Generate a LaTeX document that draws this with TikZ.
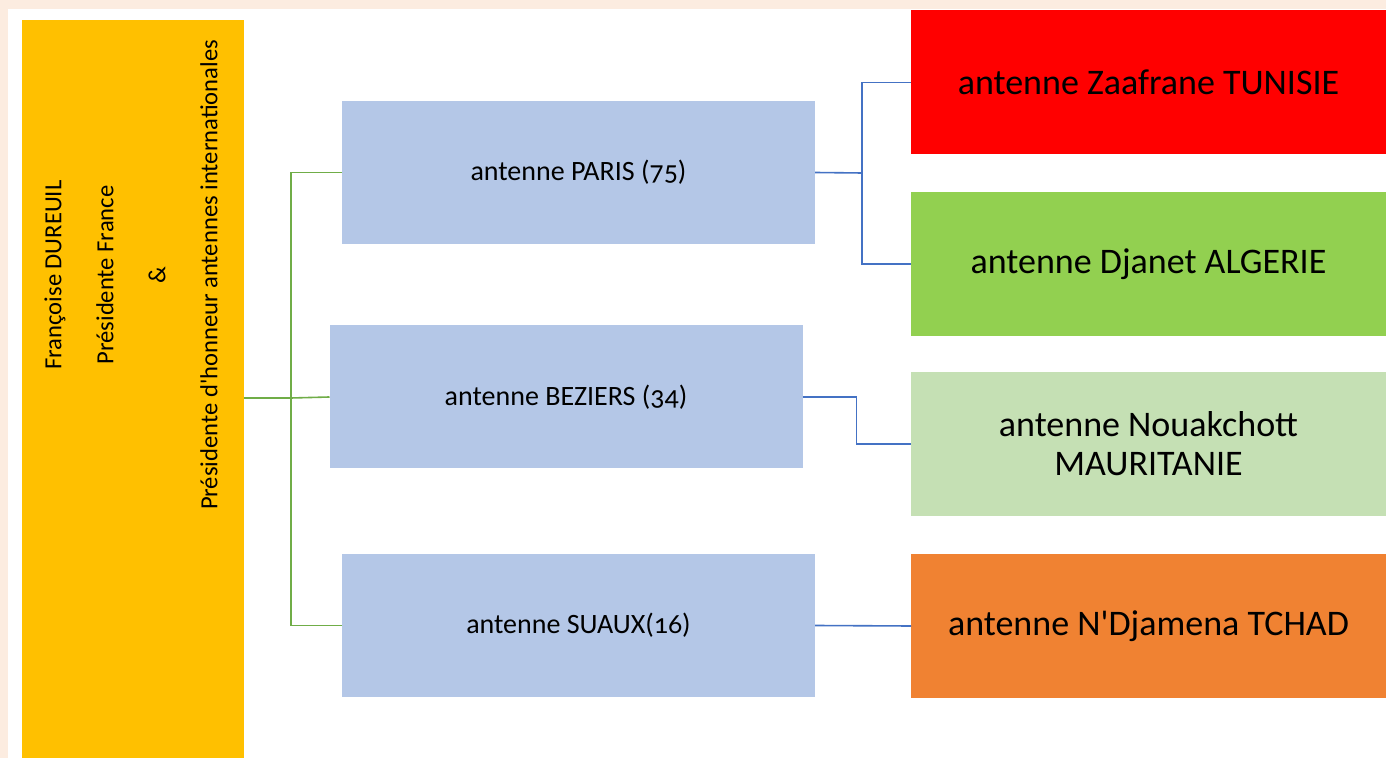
\documentclass[tikz,border=0pt]{standalone}
\usepackage{fontspec}
\setmainfont{Carlito}[Numbers=OldStyle]
\usepackage{xcolor}
\usetikzlibrary{positioning}

\definecolor{peach}{RGB}{252,236,224}
\definecolor{presyellow}{RGB}{255,192,0}
\definecolor{frblue}{RGB}{180,199,231}
\definecolor{tunred}{RGB}{255,0,0}
\definecolor{alggreen}{RGB}{146,208,80}
\definecolor{maugreen}{RGB}{197,224,180}
\definecolor{tchorange}{RGB}{240,130,50}
\definecolor{treegreen}{RGB}{112,173,71}
\definecolor{treeblue}{RGB}{68,114,196}

\begin{document}
\begin{tikzpicture}[
    x=0.5pt, y=-0.5pt,
    president/.style={rectangle, minimum width=111pt, minimum height=369pt, inner sep=0pt, outer sep=0pt, fill=presyellow},
    france/.style={rectangle, minimum width=236.5pt, minimum height=71.5pt, inner sep=0pt, outer sep=0pt, fill=frblue, font=\fontsize{14}{16}\selectfont},
    abroad/.style={rectangle, minimum width=237.5pt, minimum height=72pt, inner sep=0pt, outer sep=0pt, align=center, font=\fontsize{18}{19.5}\selectfont},
    greenline/.style={treegreen, line width=0.8pt},
    blueline/.style={treeblue, line width=0.8pt}
]

% page background
\fill[peach] (0,0) rectangle (1386,758);
\fill[white] (8,9) rectangle (1386,758);
\useasboundingbox (0,0) rectangle (1386,758);

% president
\node (pres) [president] at (133,389) {};
\node (prestext) [rotate=90, align=center, font=\fontsize{12.3}{26}\selectfont] at (131,275)
    {Françoise DUREUIL\\Présidente France\\\&\\Présidente d\textquotesingle honneur antennes internationales};

% french antennas
\node (paris) [france] at (578.5,172.5) {antenne PARIS (75)};
\node (bez) [france] at (566,397) {antenne BEZIERS (34)};
\node (suaux) [france] at (578.5,625.5) {antenne SUAUX(16)};

% international antennas
\node (tun) [abroad, fill=tunred] at (1148.5,82.5) {antenne Zaafrane TUNISIE};
\node (alg) [abroad, fill=alggreen] at (1148.5,264) {antenne Djanet ALGERIE};
\node (mau) [abroad, fill=maugreen] at (1148.5,444) {antenne Nouakchott\\MAURITANIE};
\node (tch) [abroad, fill=tchorange] at (1148.5,626) {antenne N\textquotesingle Djamena TCHAD};

% links
\coordinate (gj) at (291,398);
\coordinate (bj) at (862,173);
\draw [greenline] (pres.east |- gj) -- (gj);
\draw [greenline] (paris.west) -| (gj) |- (suaux.west);
\draw [greenline] (gj) -- (bez.west);
\draw [blueline] (paris.east) -- (bj);
\draw [blueline] (tun.west) -| (bj) |- (alg.west);
\draw [blueline] (bez.east) -- ++(54,0) |- (mau.west);
\draw [blueline] (suaux.east) -- (tch.west);

\end{tikzpicture}
\end{document}
